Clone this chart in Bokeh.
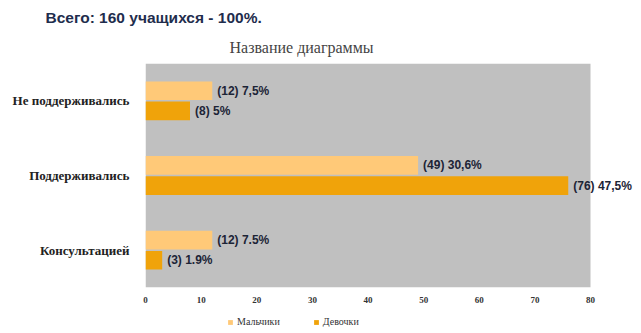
from bokeh.plotting import figure
from bokeh.layouts import column
from bokeh.models import (ColumnDataSource, LabelSet, Legend, LegendItem, FixedTicker,
                          Range1d, Title, BoxAnnotation)
from bokeh.core.properties import value
from bokeh.embed import file_html
from bokeh.resources import INLINE

# ---- data ----
categories = ["Консультацией", "Поддерживались", "Не поддерживались"]  # bottom -> top
boys = [12, 49, 12]      # Мальчики
girls = [3, 76, 8]       # Девочки
total = 160
decimal_sep = [".", ",", ","]
series_names = ["Мальчики", "Девочки"]
x_ticks = [0, 10, 20, 30, 40, 50, 60, 70, 80]
title_text = "Всего: 160 учащихся - 100%."
chart_title = "Название диаграммы"

BOY_C = "#ffc978"
GIRL_C = "#f0a30a"
GREY = "#c0c0c0"

def pct_label(v, sep):
    p = round(v * 100.0 / total, 1)
    s = ("%.1f" % p)
    if s.endswith(".0"):
        s = s[:-2]
    return "(%d) %s%%" % (v, s.replace(".", sep))

n = len(categories)
centers = [i + 0.5 for i in range(n)]
bar_h = 0.25
shift = 0.135

boys_src = ColumnDataSource(dict(
    y=[c + shift for c in centers], v=boys,
    lab=[pct_label(v, decimal_sep[i]) for i, v in enumerate(boys)]))
girls_src = ColumnDataSource(dict(
    y=[c - shift for c in centers], v=girls,
    lab=[pct_label(v, decimal_sep[i]) for i, v in enumerate(girls)]))

# layout: grey plot area spans x 145..590 px for 0..80; frame extends to the right edge
W, H, LEG_H = 641, 310, 23
LEFT, AREA_RIGHT = 145, 590
x_max = x_ticks[-1] * (W - LEFT) / (AREA_RIGHT - LEFT)

p = figure(width=W, height=H, output_backend="svg", toolbar_location=None,
           x_range=Range1d(0, x_max), y_range=Range1d(0, n),
           min_border_left=LEFT, min_border_right=0, min_border_top=63,
           min_border_bottom=H - 287)
p.background_fill_color = "white"
p.border_fill_color = "white"
p.outline_line_color = None
p.xgrid.visible = False
p.ygrid.visible = False

p.add_layout(BoxAnnotation(left=x_ticks[0], right=x_ticks[-1], fill_color=GREY,
                           fill_alpha=1.0, line_color=None, level="underlay"))

rb = p.hbar(y="y", right="v", left=0, height=bar_h, source=boys_src, color=BOY_C, line_color=None)
rg = p.hbar(y="y", right="v", left=0, height=bar_h, source=girls_src, color=GIRL_C, line_color=None)

for src in (boys_src, girls_src):
    p.add_layout(LabelSet(x="v", y="y", text="lab", source=src, x_offset=5,
                          text_baseline="middle", text_font=value("Liberation Sans"),
                          text_font_style="bold", text_font_size="12px",
                          text_color="#1c2436"))

# axes
p.xaxis.ticker = FixedTicker(ticks=x_ticks)
p.xaxis.axis_line_color = None
p.xaxis.major_tick_line_color = None
p.xaxis.minor_tick_line_color = None
p.xaxis.major_label_text_font = "Liberation Serif"
p.xaxis.major_label_text_font_style = "bold"
p.xaxis.major_label_text_font_size = "9px"
p.xaxis.major_label_text_color = "#333333"
p.xaxis.major_label_standoff = 3

p.yaxis.ticker = FixedTicker(ticks=centers)
p.yaxis.major_label_overrides = {c: categories[i] for i, c in enumerate(centers)}
p.yaxis.axis_line_color = None
p.yaxis.major_tick_line_color = None
p.yaxis.minor_tick_line_color = None
p.yaxis.major_label_text_font = "Liberation Serif"
p.yaxis.major_label_text_font_style = "bold"
p.yaxis.major_label_text_font_size = "13px"
p.yaxis.major_label_text_color = "#222222"
p.yaxis.major_label_standoff = 10

# titles: main title on top, chart title just above the plot area
p.title.text = title_text
p.title.align = "left"
p.title.offset = -100
p.title.text_font = "Liberation Sans"
p.title.text_font_style = "bold"
p.title.text_font_size = "15.5px"
p.title.text_color = "#1f2d4d"
p.title.standoff = 8
p.add_layout(Title(text=chart_title, align="left", offset=84, standoff=15,
                   text_font="Liberation Serif", text_font_style="normal",
                   text_font_size="16px", text_color="#444444"), "above")

# legend strip below the chart (its frame is aligned with the chart's frame)
lf = figure(width=W, height=LEG_H, output_backend="svg", toolbar_location=None,
            x_range=Range1d(0, 1), y_range=Range1d(0, 1),
            x_axis_location=None, y_axis_location=None, min_border=0)
lf.outline_line_color = None
lf.xgrid.visible = False
lf.ygrid.visible = False
lb = lf.hbar(y=[-5], right=[1], left=0, height=1, color=BOY_C, line_color=None)
lg = lf.hbar(y=[-5], right=[1], left=0, height=1, color=GIRL_C, line_color=None)
legend = Legend(items=[LegendItem(label=series_names[0], renderers=[lb]),
                       LegendItem(label=series_names[1], renderers=[lg])],
                orientation="horizontal", location=(82, 6),
                label_text_font="Liberation Serif", label_text_font_size="10px",
                label_text_color="#333333", glyph_width=6, glyph_height=6,
                spacing=33, padding=0, margin=0, border_line_color=None,
                background_fill_alpha=0, label_standoff=4)
lf.add_layout(legend)

layout = column(p, lf, spacing=0)
open("out.html", "w").write(file_html(layout, INLINE))
